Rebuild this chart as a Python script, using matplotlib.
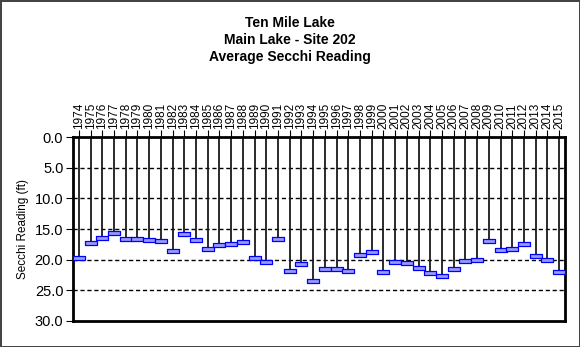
import numpy as np
import matplotlib.pyplot as plt
from matplotlib.path import Path

plt.rcParams['font.family'] = ['Liberation Sans', 'DejaVu Sans']

# yearly average secchi depth (ft)
years = list(range(1974, 2016))
secchi = [19.8, 17.3, 16.4, 15.6, 16.7, 16.7, 16.8, 16.9, 18.6, 15.8,
          16.8, 18.3, 17.6, 17.5, 17.1, 19.7, 20.3, 16.7, 21.8, 20.7,
          23.5, 21.6, 21.5, 21.8, 19.2, 18.7, 22.0, 20.3, 20.6, 21.3,
          22.2, 22.6, 21.6, 20.2, 20.0, 17.0, 18.4, 18.3, 17.4, 19.4,
          20.0, 22.0]
yticks = [0, 5, 10, 15, 20, 25, 30]

fig = plt.figure(figsize=(5.8, 3.47), dpi=100)
fig.patch.set_edgecolor('#444444')
fig.patch.set_linewidth(2)
ax = fig.add_axes([0.126, 0.075, 0.848, 0.530])

x = np.arange(len(years))
ax.vlines(x, 0, secchi, color='#1a1a1a', lw=1.3, zorder=2)

# flat rectangle marker for each reading
rect = Path([(-1, -0.3), (1, -0.3), (1, 0.3), (-1, 0.3), (-1, -0.3)],
            [Path.MOVETO, Path.LINETO, Path.LINETO, Path.LINETO, Path.CLOSEPOLY])
ax.plot(x, secchi, ls='none', marker=rect, markersize=9,
        markerfacecolor='#9a9aff', markeredgecolor='#0000ff', markeredgewidth=0.9, zorder=3)

ax.set_xlim(-0.5, len(years) - 0.5)
ax.set_ylim(30, 0)
ax.set_yticks(yticks)
ax.set_yticklabels(['%.1f' % v for v in yticks], fontsize=10.5)
for v in yticks[1:-1]:
    ax.axhline(v, color='black', ls=(0, (3, 2)), lw=1, zorder=1)

ax.set_xticks(x)
ax.set_xticklabels(years, rotation=90, fontsize=8.5)
ax.xaxis.tick_top()
ax.tick_params(axis='x', direction='out', length=5, pad=1)
ax.tick_params(axis='y', direction='out', length=5, pad=2)
for s in ax.spines.values():
    s.set_linewidth(2)

ax.set_ylabel('Secchi Reading (ft)', fontsize=8.5, labelpad=4)

fig.text(0.5, 0.885, 'Ten Mile Lake\nMain Lake - Site 202\nAverage Secchi Reading',
         ha='center', va='center', fontsize=10, fontweight='bold', linespacing=1.25)

fig.savefig('out.png', dpi=100, edgecolor=fig.get_edgecolor())
